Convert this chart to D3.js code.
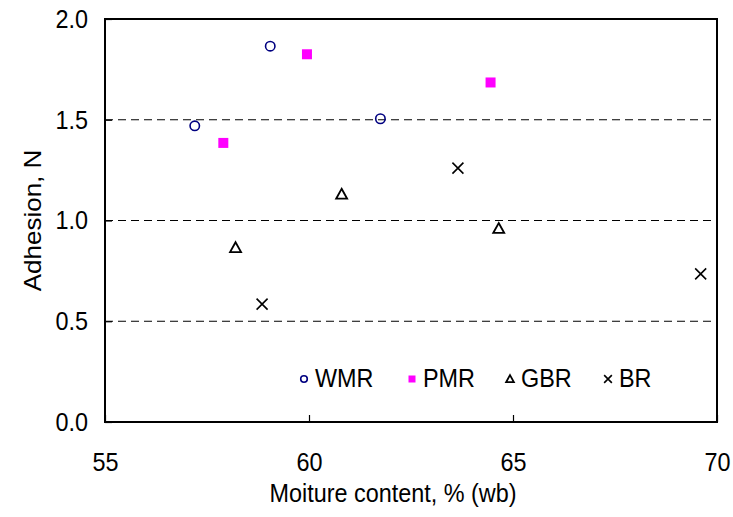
<!DOCTYPE html>
<html>
<head>
<meta charset="utf-8">
<script src="https://cdn.jsdelivr.net/npm/d3@7"></script>
<style>
  body { margin: 0; background: #fff; }
  text { font-family: "Liberation Sans", Arial, sans-serif; fill: #000; }
</style>
</head>
<body>
<div id="chart"></div>
<script>
// data
var seriesNames = ['WMR', 'PMR', 'GBR', 'BR']
var wmrX = [57.2, 59.05, 61.75]
var wmrY = [1.47, 1.865, 1.505]
var pmrX = [57.9, 59.95, 64.45]
var pmrY = [1.385, 1.825, 1.685]
var gbrX = [58.2, 60.8, 64.65]
var gbrY = [0.865, 1.13, 0.96]
var brX = [58.85, 63.65, 69.6]
var brY = [0.585, 1.26, 0.735]
var xTicks = [55, 60, 65, 70]
var yTicks = [0, 0.5, 1.0, 1.5, 2.0]
var gridLines = [0.5, 1.0, 1.5]

var w = 733, h = 517
var margin = { top: 19, right: 16, bottom: 95, left: 105 }
var iw = w - margin.left - margin.right
var ih = h - margin.top - margin.bottom
var fs = '26px'
var sx = 0.9   // text in the picture is a little squeezed sideways

var svg = d3.select('#chart').append('svg')
  .attr('width', w)
  .attr('height', h)

var g = svg.append('g')
  .attr('transform', 'translate(' + margin.left + ',' + margin.top + ')')

var x = d3.scaleLinear().domain([55, 70]).range([0, iw])
var y = d3.scaleLinear().domain([0, 2]).range([ih, 0])

// dashed grid
g.selectAll('.grid')
  .data(gridLines)
  .enter().append('line')
  .attr('class', 'grid')
  .attr('x1', 0).attr('x2', iw)
  .attr('y1', function(d) { return y(d) })
  .attr('y2', function(d) { return y(d) })
  .attr('stroke', '#000')
  .attr('stroke-width', 1)
  .attr('stroke-dasharray', '8,5')

// axes with inward ticks
var xAxis = g.append('g')
  .attr('transform', 'translate(0,' + ih + ')')
  .call(d3.axisBottom(x).tickValues(xTicks).tickSize(-7).tickPadding(31).tickFormat(d3.format('d')))
var yAxis = g.append('g')
  .call(d3.axisLeft(y).tickValues(yTicks).tickSize(-7).tickPadding(17).tickFormat(d3.format('.1f')))

;[xAxis, yAxis].forEach(function(a) {
  a.select('.domain').remove()
  a.selectAll('line').attr('stroke', '#000').attr('stroke-width', 1.2)
  a.selectAll('text').style('font-size', fs)
    .attr('font-family', '"Liberation Sans", Arial, sans-serif')
    .attr('transform', 'scale(' + sx + ',1)')
})
yAxis.selectAll('text').attr('x', -17 / sx)

// frame
g.append('rect')
  .attr('width', iw).attr('height', ih)
  .attr('fill', 'none')
  .attr('stroke', '#000')
  .attr('stroke-width', 2)

// marker drawing
function drawMarker(sel, name, s) {
  if (name == 'WMR') {
    sel.append('circle').attr('r', 4.7 * s)
      .attr('fill', 'none').attr('stroke', '#000080').attr('stroke-width', 1.6)
  } else if (name == 'PMR') {
    sel.append('rect').attr('x', -5 * s).attr('y', -5 * s)
      .attr('width', 10 * s).attr('height', 10 * s)
      .attr('fill', '#ff00ff')
  } else if (name == 'GBR') {
    var a = 5.5 * s
    sel.append('path')
      .attr('d', 'M0,' + (-a) + 'L' + a + ',' + (a * 0.8) + 'L' + (-a) + ',' + (a * 0.8) + 'Z')
      .attr('fill', 'none').attr('stroke', '#000').attr('stroke-width', 1.8)
  } else {
    var b = 5.5 * s
    sel.append('path')
      .attr('d', 'M' + (-b) + ',' + (-b) + 'L' + b + ',' + b + 'M' + b + ',' + (-b) + 'L' + (-b) + ',' + b)
      .attr('fill', 'none').attr('stroke', '#000').attr('stroke-width', 1.6)
  }
}

var seriesX = [wmrX, pmrX, gbrX, brX]
var seriesY = [wmrY, pmrY, gbrY, brY]

seriesNames.forEach(function(name, i) {
  var pts = seriesX[i].map(function(v, j) { return [v, seriesY[i][j]] })
  g.selectAll('.pt' + name)
    .data(pts)
    .enter().append('g')
    .attr('class', 'pt' + name)
    .attr('transform', function(d) { return 'translate(' + x(d[0]) + ',' + y(d[1]) + ')' })
    .each(function() { drawMarker(d3.select(this), name, 1) })
})

// legend
var legendX = [304, 412, 510, 608]
var legend = svg.append('g').attr('transform', 'translate(0,379)')
seriesNames.forEach(function(name, i) {
  var lg = legend.append('g').attr('transform', 'translate(' + legendX[i] + ',0)')
  drawMarker(lg, name, 0.7)
  lg.append('text')
    .attr('transform', 'translate(11,8) scale(' + sx + ',1)')
    .style('font-size', fs)
    .text(name)
})

// axis titles
svg.append('text')
  .attr('transform', 'translate(' + (margin.left + iw / 2 - 18) + ',502) scale(' + sx + ',1)')
  .attr('text-anchor', 'middle')
  .style('font-size', fs)
  .text('Moiture content, % (wb)')

svg.append('text')
  .attr('transform', 'translate(41,' + (margin.top + ih / 2) + ') rotate(-90) scale(1,' + sx + ')')
  .attr('text-anchor', 'middle')
  .style('font-size', fs)
  .text('Adhesion, N')
</script>
</body>
</html>
